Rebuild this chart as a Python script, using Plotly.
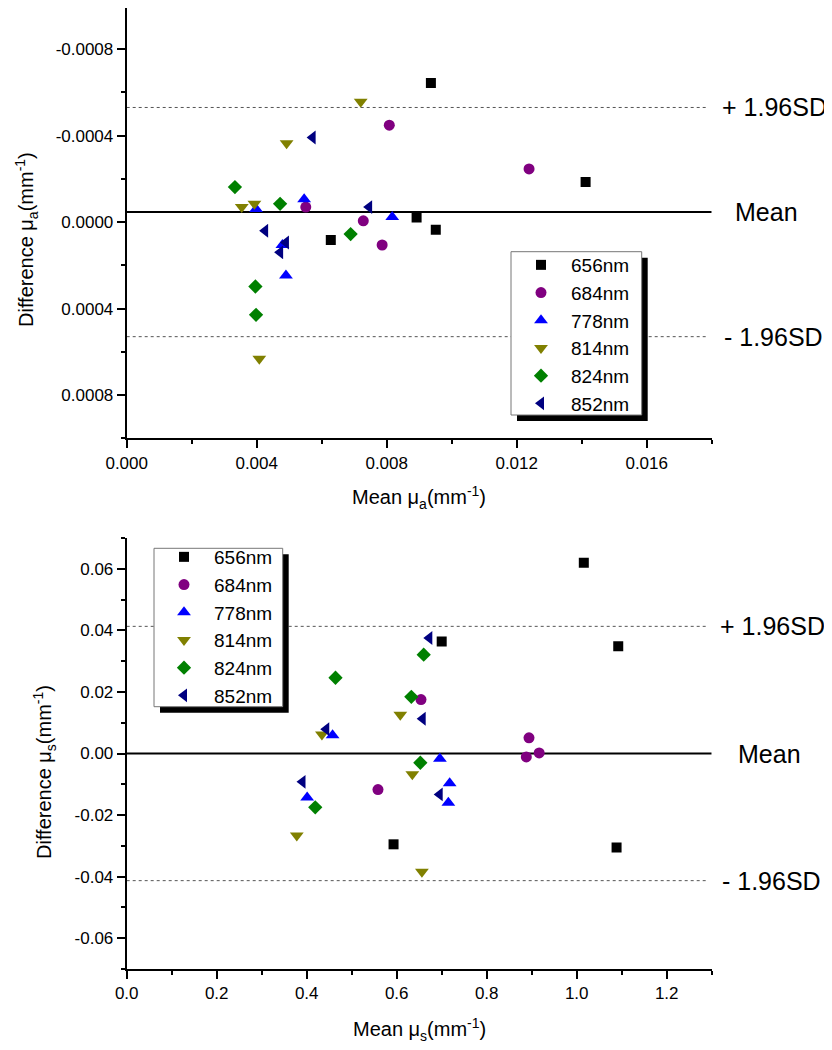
import plotly.graph_objects as go

# ---------------- data ----------------
series_names = ["656nm", "684nm", "778nm", "814nm", "824nm", "852nm"]
series_colors = ["#000000", "#800080", "#0000FF", "#808000", "#008000", "#000080"]
series_symbols = ["square", "circle", "triangle-up", "triangle-down", "diamond", "triangle-left"]
series_sizes = [10, 11, 12, 12, 11, 12]

# Top panel: mean mu_a vs difference mu_a (values as printed on the axis)
mua_x_656 = [0.00936, 0.01412, 0.00951, 0.00892, 0.00628]
mua_y_656 = [-0.000643, -0.000185, 0.0000356, -0.0000213, 0.0000832]
mua_x_684 = [0.01238, 0.00808, 0.00551, 0.00728, 0.00786]
mua_y_684 = [-0.000246, -0.000448, -0.0000694, -0.000006, 0.000106]
mua_x_778 = [0.00546, 0.00817, 0.00398, 0.00479, 0.00490]
mua_y_778 = [-0.000106, -0.000023, -0.00006, 0.000106, 0.000247]
mua_x_814 = [0.00720, 0.00492, 0.00354, 0.00393, 0.00408]
mua_y_814 = [-0.000556, -0.000365, -0.0000694, -0.0000846, 0.000632]
mua_x_824 = [0.00333, 0.00472, 0.00689, 0.00396, 0.00398]
mua_y_824 = [-0.000162, -0.0000846, 0.0000555, 0.000298, 0.000429]
mua_x_852 = [0.00572, 0.00746, 0.00426, 0.00490, 0.00472]
mua_y_852 = [-0.000391, -0.0000694, 0.00004, 0.0000943, 0.00014]

mua_mean = -0.000046
mua_upper = -0.00053
mua_lower = 0.00053
mua_xrange = [0, 0.018]
mua_yrange = [0.001, -0.00099]
mua_yticks = [-0.0008, -0.0004, 0.0, 0.0004, 0.0008]
mua_yticklabels = ["-0.0008", "-0.0004", "0.0000", "0.0004", "0.0008"]
mua_yminor = [-0.0006, -0.0002, 0.0002, 0.0006, 0.001]

# Bottom panel: mean mu_s vs difference mu_s
mus_x_656 = [1.0158, 1.0923, 0.700, 0.593, 1.0886]
mus_y_656 = [0.062, 0.0348, 0.0364, -0.0295, -0.0305]
mus_x_684 = [0.654, 0.894, 0.9166, 0.888, 0.5584]
mus_y_684 = [0.0175, 0.0051, 0.0002, -0.0011, -0.0117]
mus_x_778 = [0.4575, 0.696, 0.7177, 0.401, 0.7148]
mus_y_778 = [0.0059, -0.0017, -0.0097, -0.0143, -0.016]
mus_x_814 = [0.608, 0.4338, 0.6347, 0.378, 0.656]
mus_y_814 = [0.0126, 0.0062, -0.0067, -0.0266, -0.0384]
mus_x_824 = [0.660, 0.464, 0.6325, 0.6525, 0.419]
mus_y_824 = [0.0321, 0.0246, 0.0184, -0.003, -0.0175]
mus_x_852 = [0.6725, 0.6577, 0.4434, 0.3907, 0.6955]
mus_y_852 = [0.0375, 0.0113, 0.0079, -0.0092, -0.0133]

mus_mean = 0.0
mus_upper = 0.0413
mus_lower = -0.0413
mus_xrange = [0, 1.3]
mus_yrange = [-0.07, 0.07]
mus_yticks = [-0.06, -0.04, -0.02, 0.0, 0.02, 0.04, 0.06]
mus_yticklabels = ["-0.06", "-0.04", "-0.02", "0.00", "0.02", "0.04", "0.06"]

top_x = [mua_x_656, mua_x_684, mua_x_778, mua_x_814, mua_x_824, mua_x_852]
top_y = [mua_y_656, mua_y_684, mua_y_778, mua_y_814, mua_y_824, mua_y_852]
bot_x = [mus_x_656, mus_x_684, mus_x_778, mus_x_814, mus_x_824, mus_x_852]
bot_y = [mus_y_656, mus_y_684, mus_y_778, mus_y_814, mus_y_824, mus_y_852]

# ---------------- figure ----------------
OFF = 8            # page body margin in the browser
W, H = 832 - OFF, 1050 - OFF
FONT = "Liberation Sans, Arial, sans-serif"


def px_x(p):
    return min(1.0, max(0.0, (p - OFF) / W))


def px_y(p):
    return min(1.0, max(0.0, 1 - (p - OFF) / H))


fig = go.Figure()

for i, name in enumerate(series_names):
    fig.add_trace(go.Scatter(
        x=top_x[i], y=top_y[i], mode="markers", name=name,
        marker=dict(symbol=series_symbols[i], size=series_sizes[i],
                    color=series_colors[i], line=dict(width=0)),
        xaxis="x", yaxis="y", legend="legend"))
for i, name in enumerate(series_names):
    fig.add_trace(go.Scatter(
        x=bot_x[i], y=bot_y[i], mode="markers", name=name,
        marker=dict(symbol=series_symbols[i], size=series_sizes[i],
                    color=series_colors[i], line=dict(width=0)),
        xaxis="x2", yaxis="y2", legend="legend2"))

xdom = [px_x(126.7), px_x(711.7)]
axis_common = dict(showline=True, linewidth=2, linecolor="black", ticks="outside",
                   ticklen=8, tickwidth=2, tickcolor="black", showgrid=False,
                   zeroline=False, automargin=False,
                   tickfont=dict(size=17, color="black", family=FONT))

legend_common = dict(xanchor="left", yanchor="top", bgcolor="rgba(0,0,0,0)",
                     borderwidth=0, font=dict(size=19, family=FONT, color="black"),
                     itemwidth=50, tracegroupgap=0)

fig.update_layout(
    width=W, height=H, margin=dict(l=0, r=0, t=0, b=0, autoexpand=False),
    paper_bgcolor="white", plot_bgcolor="white",
    font=dict(family=FONT, color="black"),
    xaxis=dict(domain=xdom, range=mua_xrange, anchor="y", tick0=0, dtick=0.004,
               tickformat=".3f",
               minor=dict(ticks="outside", ticklen=4, tickwidth=2, tickcolor="black",
                          tick0=0, dtick=0.002),
               **axis_common),
    yaxis=dict(domain=[px_y(438.3), 1.0], range=mua_yrange, anchor="x",
               tickmode="array", tickvals=mua_yticks, ticktext=mua_yticklabels,
               minor=dict(ticks="outside", ticklen=4, tickwidth=2, tickcolor="black",
                          tickmode="array", tickvals=mua_yminor),
               **axis_common),
    xaxis2=dict(domain=xdom, range=mus_xrange, anchor="y2", tick0=0, dtick=0.2,
                tickformat=".1f",
                minor=dict(ticks="outside", ticklen=4, tickwidth=2, tickcolor="black",
                           tick0=0, dtick=0.1),
                **axis_common),
    yaxis2=dict(domain=[px_y(969), px_y(538)], range=mus_yrange, anchor="x2",
                tickmode="array", tickvals=mus_yticks, ticktext=mus_yticklabels,
                minor=dict(ticks="outside", ticklen=4, tickwidth=2, tickcolor="black",
                           tick0=0, dtick=0.01),
                **axis_common),
    legend=dict(x=px_x(511), y=px_y(246), **legend_common),
    legend2=dict(x=px_x(154), y=px_y(538), **legend_common),
)

# Mean and limits lines
for xr, yr, rng, mean, up, lo in [("x", "y", mua_xrange, mua_mean, mua_upper, mua_lower),
                                  ("x2", "y2", mus_xrange, mus_mean, mus_upper, mus_lower)]:
    fig.add_shape(type="line", xref=xr, yref=yr, x0=rng[0], x1=rng[1], y0=mean, y1=mean,
                  line=dict(color="black", width=2), layer="below")
    for v in (up, lo):
        fig.add_shape(type="line", xref=xr, yref=yr, x0=rng[0], x1=rng[1] * 0.99, y0=v, y1=v,
                      line=dict(color="#555555", width=1, dash="3px,3px"), layer="below")

# Legend boxes with drop shadows
for (l, t, r, b) in [(511, 251.7, 641.7, 415), (154, 548.3, 282.7, 706.7)]:
    fig.add_shape(type="rect", xref="paper", yref="paper",
                  x0=px_x(l + 6), x1=px_x(r + 6), y0=px_y(b + 6), y1=px_y(t + 6),
                  fillcolor="black", line=dict(width=0), layer="above")
    fig.add_shape(type="rect", xref="paper", yref="paper",
                  x0=px_x(l), x1=px_x(r), y0=px_y(b), y1=px_y(t),
                  fillcolor="white", line=dict(width=1, color="#777777"), layer="above")

# Line labels
labels = [
    ("+ 1.96SD", 720, "y", mua_upper), ("Mean", 733, "y", mua_mean), ("- 1.96SD", 722, "y", mua_lower),
    ("+ 1.96SD", 718, "y2", mus_upper), ("Mean", 736, "y2", mus_mean), ("- 1.96SD", 720, "y2", mus_lower),
]
for txt, xp, yr, v in labels:
    fig.add_annotation(text=txt, xref="paper", yref=yr, x=px_x(xp), y=v,
                       xanchor="left", yanchor="middle", showarrow=False,
                       font=dict(size=25, family=FONT, color="black"))

# Axis titles
fig.add_annotation(text="Mean \u03bc<sub>a</sub>(mm<sup>-1</sup>)", xref="paper", yref="paper",
                   x=px_x(419), y=px_y(498), xanchor="center", yanchor="middle",
                   showarrow=False, font=dict(size=20, family=FONT, color="black"))
fig.add_annotation(text="Mean \u03bc<sub>s</sub>(mm<sup>-1</sup>)", xref="paper", yref="paper",
                   x=px_x(419), y=px_y(1029), xanchor="center", yanchor="middle",
                   showarrow=False, font=dict(size=20, family=FONT, color="black"))
fig.add_annotation(text="Difference \u03bc<sub>a</sub>(mm<sup>-1</sup>)", xref="paper", yref="paper",
                   x=px_x(27), y=px_y(240), xanchor="center", yanchor="middle", textangle=-90,
                   showarrow=False, font=dict(size=20, family=FONT, color="black"))
fig.add_annotation(text="Difference \u03bc<sub>s</sub>(mm<sup>-1</sup>)", xref="paper", yref="paper",
                   x=px_x(44), y=px_y(772), xanchor="center", yanchor="middle", textangle=-90,
                   showarrow=False, font=dict(size=20, family=FONT, color="black"))

fig.write_html("out.html")
